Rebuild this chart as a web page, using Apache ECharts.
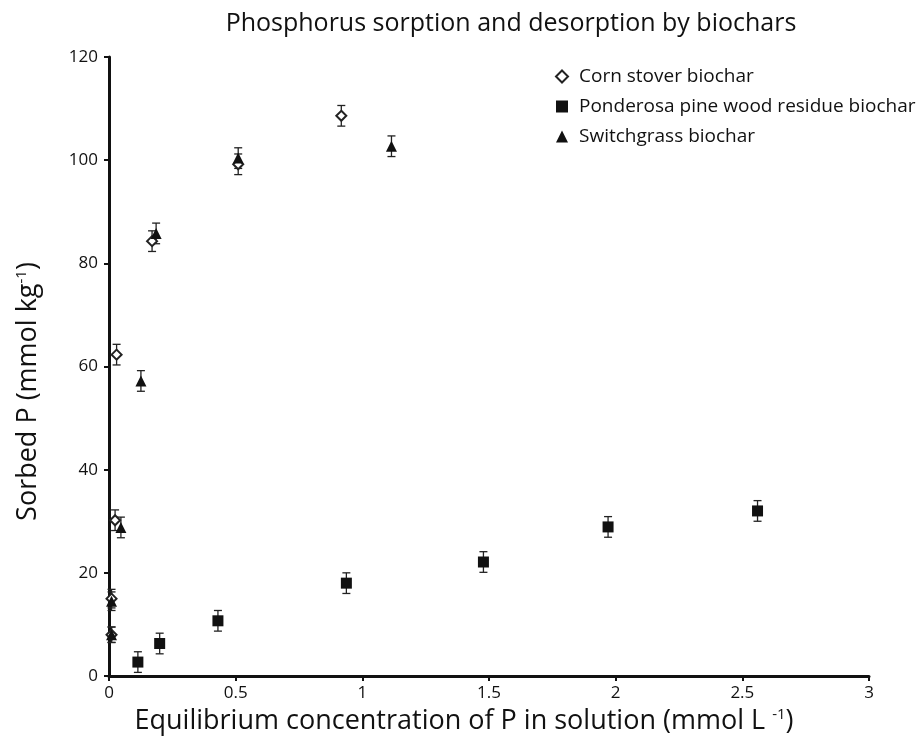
<!DOCTYPE html>
<html>
<head>
<meta charset="utf-8">
<script src="https://cdn.jsdelivr.net/npm/echarts@6/dist/echarts.min.js"></script>
<style>
  html, body { margin: 0; padding: 0; background: #fff; }
  #main { width: 923px; height: 748px; }
</style>
</head>
<body>
<div id="main"></div>
<script>
// values: [x, y]
var cornStover = [[0.01, 8], [0.01, 15], [0.024, 30.2], [0.03, 62.3], [0.17, 84.3], [0.51, 99.2], [0.917, 108.6]];
var cornErr = [1.5, 1.8, 2, 2, 2, 2, 2];
var ponderosa = [[0.114, 2.7], [0.2, 6.3], [0.43, 10.7], [0.937, 18], [1.478, 22.1], [1.97, 28.9], [2.56, 32]];
var ponderosaErr = [2, 2, 2, 2, 2, 2, 2];
var switchgrass = [[0.01, 8], [0.01, 14.5], [0.047, 28.8], [0.126, 57.2], [0.186, 85.8], [0.51, 100.4], [1.115, 102.7]];
var switchErr = [1.5, 1.8, 2, 2, 2, 2, 2];
var seriesNames = ['Corn stover biochar', 'Ponderosa pine wood residue biochar', 'Switchgrass biochar'];
var xTicks = [0, 0.5, 1, 1.5, 2, 2.5, 3];
var yTicks = [0, 20, 40, 60, 80, 100, 120];

var chart = echarts.init(document.getElementById('main'));
var font = '"Open Sans", "Noto Sans", sans-serif';

function errBars(points, errs) {
  return points.map(function (p, i) { return [p[0], p[1] - errs[i], p[1] + errs[i]]; });
}

function renderErr(params, api) {
  var x = api.value(0);
  var lo = api.coord([x, api.value(1)]);
  var hi = api.coord([x, api.value(2)]);
  var w = 4;
  var style = { stroke: '#222', lineWidth: 1.3 };
  return {
    type: 'group',
    children: [
      { type: 'line', shape: { x1: lo[0], y1: lo[1], x2: hi[0], y2: hi[1] }, style: style },
      { type: 'line', shape: { x1: lo[0] - w, y1: lo[1], x2: lo[0] + w, y2: lo[1] }, style: style },
      { type: 'line', shape: { x1: hi[0] - w, y1: hi[1], x2: hi[0] + w, y2: hi[1] }, style: style }
    ]
  };
}

var option = {
  backgroundColor: '#fff',
  animation: false,
  textStyle: { fontFamily: font },
  title: {
    text: 'Phosphorus sorption and desorption by biochars',
    left: 506,
    textAlign: 'center',
    top: 6,
    textStyle: { fontFamily: font, fontSize: 25, fontWeight: 'normal', color: '#111' }
  },
  legend: {
    orient: 'vertical',
    left: 550,
    top: 62,
    itemGap: 11,
    itemWidth: 12,
    itemHeight: 12,
    data: seriesNames,
    textStyle: { fontFamily: font, fontSize: 19, color: '#111', padding: [0, 0, 0, 6] }
  },
  grid: { left: 109, right: 54, top: 57, bottom: 72 },
  xAxis: {
    type: 'value',
    min: 0,
    max: 3,
    interval: 0.5,
    name: 'Equilibrium concentration of P in solution (mmol L {s|-1})',
    nameLocation: 'middle',
    nameGap: 26,
    nameTextStyle: {
      fontFamily: font, fontSize: 27, color: '#111', padding: [0, 50, 0, 0],
      rich: { s: { fontFamily: font, fontSize: 15, color: '#111', verticalAlign: 'top', padding: [0, 0, 14, 0] } }
    },
    axisLine: { lineStyle: { color: '#111', width: 3 } },
    axisTick: { length: 5, lineStyle: { color: '#111', width: 2 } },
    axisLabel: {
      fontFamily: font, fontSize: 17, color: '#111', margin: 9,
      formatter: function (v) { return xTicks.indexOf(v) >= 0 ? String(v) : ''; }
    },
    splitLine: { show: false }
  },
  yAxis: {
    type: 'value',
    min: 0,
    max: 120,
    interval: 20,
    name: 'Sorbed P (mmol kg{s|-1})',
    nameLocation: 'middle',
    nameGap: 66,
    nameTextStyle: {
      fontFamily: font, fontSize: 27, color: '#111', padding: [0, 50, 0, 0],
      rich: { s: { fontFamily: font, fontSize: 15, color: '#111', verticalAlign: 'top', padding: [0, 0, 14, 0] } }
    },
    axisLine: { show: true, lineStyle: { color: '#111', width: 3 } },
    axisTick: { show: true, length: 5, lineStyle: { color: '#111', width: 2 } },
    axisLabel: {
      fontFamily: font, fontSize: 17, color: '#111', margin: 11,
      formatter: function (v) { return yTicks.indexOf(v) >= 0 ? String(v) : ''; }
    },
    splitLine: { show: false }
  },
  series: [
    {
      type: 'custom', renderItem: renderErr, silent: true, z: 1,
      data: errBars(cornStover, cornErr)
    },
    {
      type: 'custom', renderItem: renderErr, silent: true, z: 1,
      data: errBars(ponderosa, ponderosaErr)
    },
    {
      type: 'custom', renderItem: renderErr, silent: true, z: 1,
      data: errBars(switchgrass, switchErr)
    },
    {
      name: seriesNames[0],
      type: 'scatter',
      symbol: 'diamond',
      symbolSize: 10,
      z: 3,
      itemStyle: { color: '#fff', borderColor: '#222', borderWidth: 2, opacity: 1 },
      data: cornStover
    },
    {
      name: seriesNames[1],
      type: 'scatter',
      symbol: 'rect',
      symbolSize: 11,
      z: 2,
      itemStyle: { color: '#111', opacity: 1 },
      data: ponderosa
    },
    {
      name: seriesNames[2],
      type: 'scatter',
      symbol: 'triangle',
      symbolSize: 11,
      z: 4,
      itemStyle: { color: '#111', opacity: 1 },
      data: switchgrass
    }
  ]
};

chart.setOption(option);
</script>
</body>
</html>
